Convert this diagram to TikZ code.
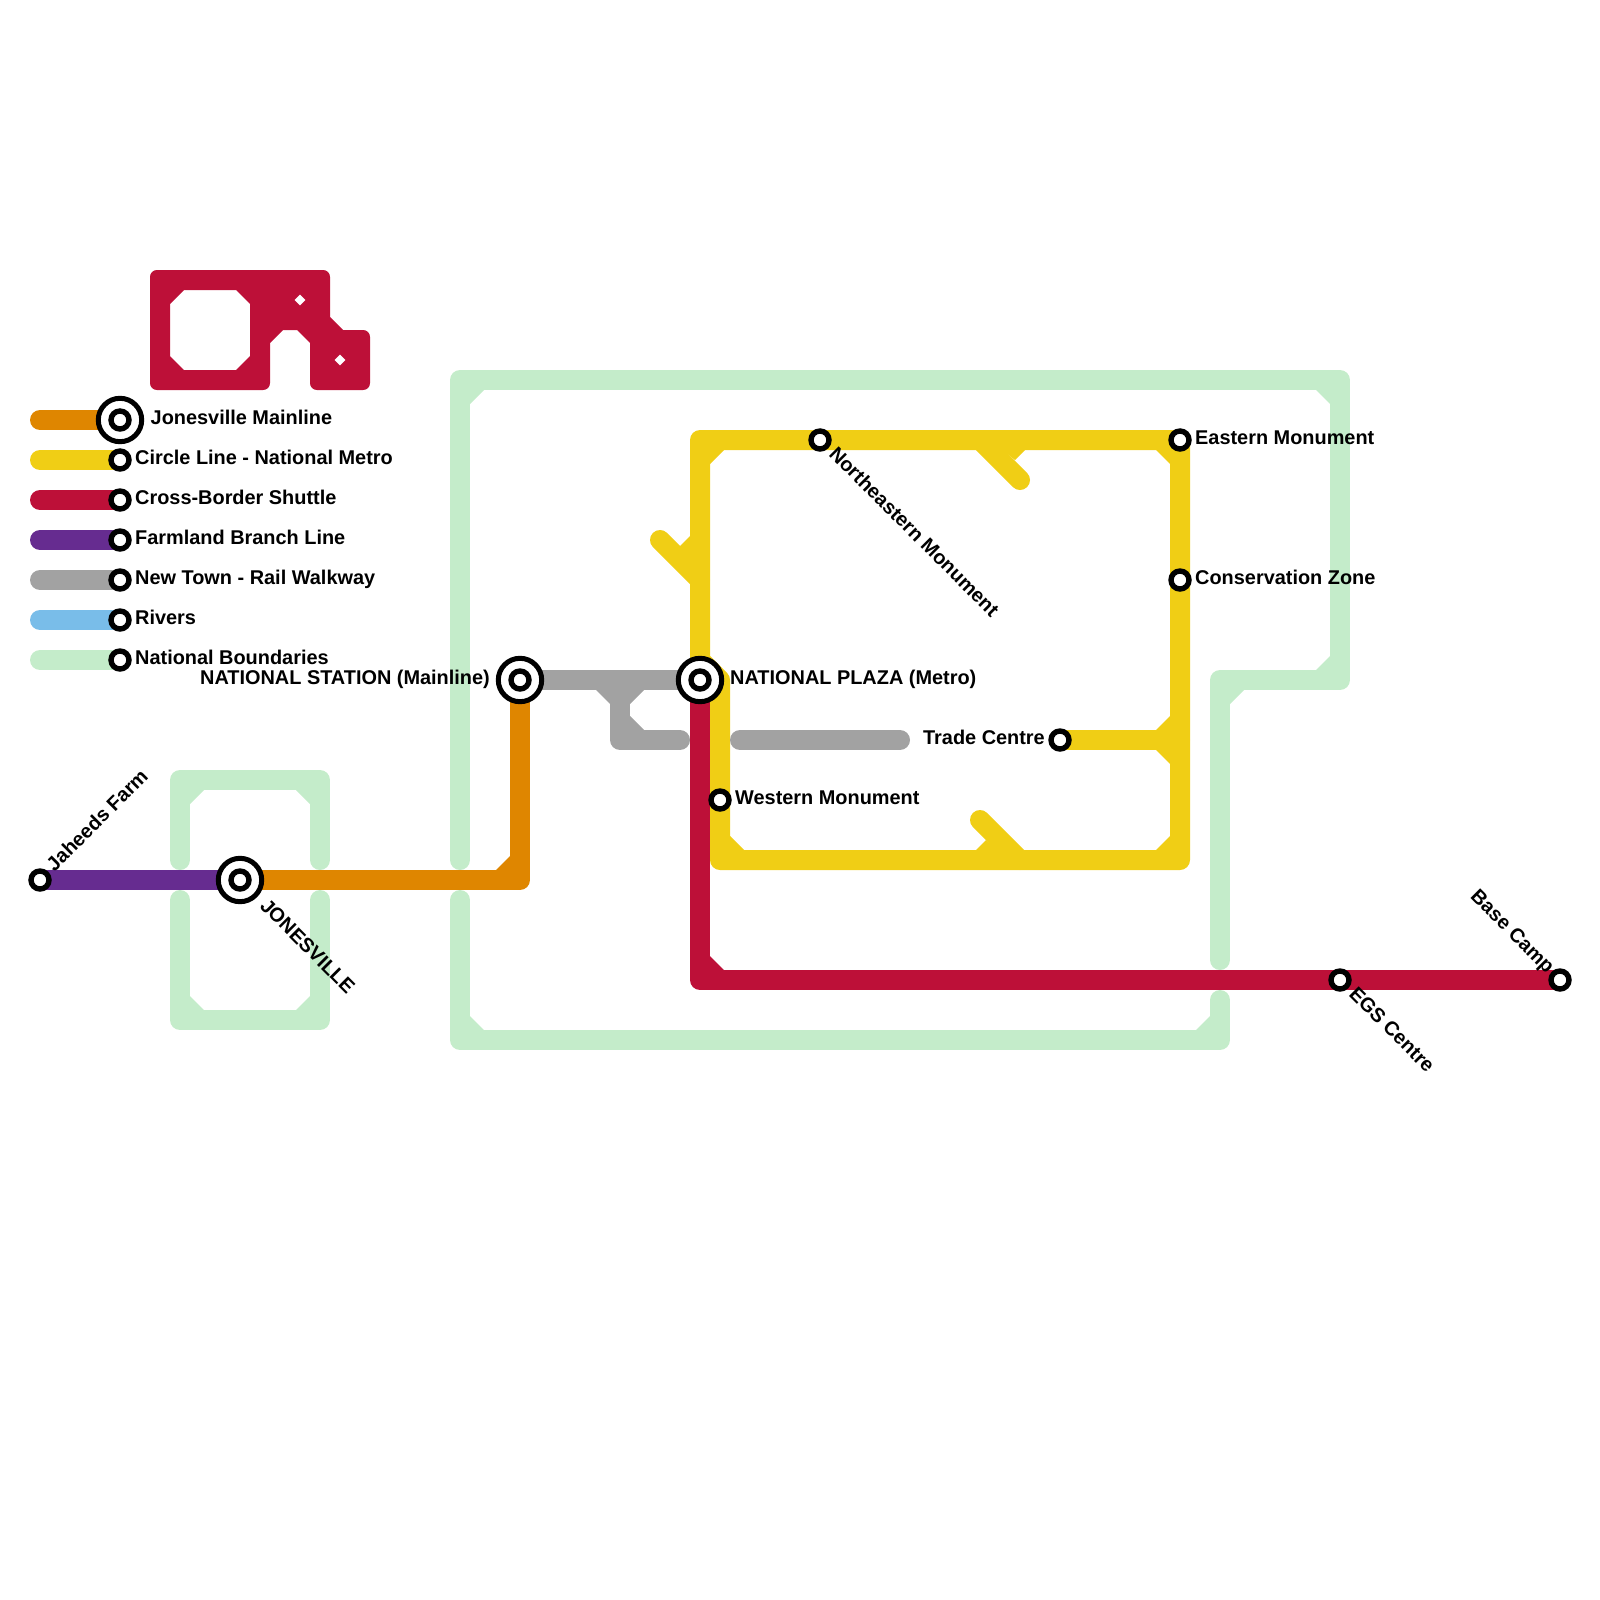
\documentclass[tikz,border=0pt]{standalone}
\usepackage{fontspec}
\setmainfont{Liberation Sans}
\usetikzlibrary{backgrounds}
\definecolor{cOrange}{HTML}{DF8600}
\definecolor{cYellow}{HTML}{F0CE15}
\definecolor{cRed}{HTML}{BD1038}
\definecolor{cPurple}{HTML}{662C90}
\definecolor{cGray}{HTML}{A2A2A2}
\definecolor{cBlue}{HTML}{79BDE9}
\definecolor{cGreen}{HTML}{C4ECCA}
\newcommand{\cham}[5]{\fill[#1] ({#2-#4},{#3-#5}) -- ({#2+14*#4},{#3-#5}) -- ({#2+14*#4},{#3}) -- ({#2},{#3+14*#5}) -- ({#2-#4},{#3+14*#5}) -- cycle;}
\tikzset{
  metro/.style={line width=20pt,line cap=round,line join=round,color=#1},
  stn/.style={circle,draw=black,fill=white,line width=5.4pt,minimum size=18pt,inner sep=0pt},
  stnbig/.style={circle,draw=black,fill=white,line width=5pt,minimum size=43.4pt,inner sep=0pt},
  lbl/.style={font=\fontsize{19.9}{24}\selectfont\bfseries,inner sep=0pt,text=black},
  lw/.style={lbl,anchor=base west},
  le/.style={lbl,anchor=base east}
}
\begin{document}
\begin{tikzpicture}[x=1pt,y=-1pt]
\useasboundingbox (0,0) rectangle (1600,1600);
% stations
\node[stnbig] (jonesville) at (240,880) {}; \node[stn] (jonesvillec) at (240,880) {};
\node[stnbig] (natstation) at (520,680) {}; \node[stn] (natstationc) at (520,680) {};
\node[stnbig] (natplaza) at (700,680) {}; \node[stn] (natplazac) at (700,680) {};
\node[stn] (jaheeds) at (40,880) {};
\node[stn] (northeast) at (820,440) {};
\node[stn] (eastern) at (1180,440) {};
\node[stn] (conservation) at (1180,580) {};
\node[stn] (trade) at (1060,740) {};
\node[stn] (western) at (720,800) {};
\node[stn] (egs) at (1340,980) {};
\node[stn] (basecamp) at (1560,980) {};
% legend stations
\node[stnbig] (keyA) at (120,420) {}; \node[stn] (keyAc) at (120,420) {};
\node[stn] (keyB) at (120,460) {};
\node[stn] (keyC) at (120,500) {};
\node[stn] (keyD) at (120,540) {};
\node[stn] (keyE) at (120,580) {};
\node[stn] (keyF) at (120,620) {};
\node[stn] (keyG) at (120,660) {};
% labels
\node[lw] (tA) at (150.5,424.7) {Jonesville Mainline};
\node[lw] (tB) at (135,464.7) {Circle Line - National Metro};
\node[lw] (tC) at (135,504.7) {Cross-Border Shuttle};
\node[lw] (tD) at (135,544.7) {Farmland Branch Line};
\node[lw] (tE) at (135,584.7) {New Town - Rail Walkway};
\node[lw] (tF) at (135,624.7) {Rivers};
\node[lw] (tG) at (135,664.7) {National Boundaries};
\node[le] (tNS) at (490,684.5) {NATIONAL STATION (Mainline)};
\node[lw] (tNP) at (730,684.5) {NATIONAL PLAZA (Metro)};
\node[le] (tTC) at (1045,744.7) {Trade Centre};
\node[lw] (tWM) at (735,804.7) {Western Monument};
\node[lw] (tEM) at (1195,444.7) {Eastern Monument};
\node[lw] (tCZ) at (1195,584.5) {Conservation Zone};
\node[lw,rotate=45] (tJF) at (54.5,872.5) {Jaheeds Farm};
\node[lw,rotate=-45] (tJV) at (259,907) {JONESVILLE};
\node[lw,rotate=-45] (tNE) at (828,455) {Northeastern Monument};
\node[lw,rotate=-45] (tEG) at (1348,995) {EGS Centre};
\node[le,rotate=-45] (tBC) at (1546.5,974.5) {Base Camp};
\begin{scope}[on background layer]
% logo
\fill[cRed,even odd rule]
  (157,270) -- (323,270) .. controls (327,270) and (330,273) .. (330,277) -- (330,317) -- (343,330) -- (363,330) .. controls (367,330) and (370,333) .. (370,337) -- (370,383) .. controls (370,387) and (367,390) .. (363,390) -- (317,390) .. controls (313,390) and (310,387) .. (310,383) -- (310,343) -- (297,330) -- (283,330) -- (270,343) -- (270,383) .. controls (270,387) and (267,390) .. (263,390) -- (157,390) .. controls (153,390) and (150,387) .. (150,383) -- (150,277) .. controls (150,273) and (153,270) .. (157,270) -- cycle
  (184,290) -- (236,290) -- (250,304) -- (250,356) -- (236,370) -- (184,370) -- (170,356) -- (170,304) -- cycle
  (300,294.3) -- (305.7,300) -- (300,305.7) -- (294.3,300) -- cycle
  (340,354.3) -- (345.7,360) -- (340,365.7) -- (334.3,360) -- cycle;
% corners and free ends
\coordinate (g1) at (180,860); \coordinate (g2) at (180,780); \coordinate (g3) at (320,780); \coordinate (g4) at (320,860);
\coordinate (g5) at (180,900); \coordinate (g6) at (180,1020); \coordinate (g7) at (320,1020); \coordinate (g8) at (320,900);
\coordinate (b1) at (460,860); \coordinate (b2) at (460,380); \coordinate (b3) at (1340,380); \coordinate (b4) at (1340,680); \coordinate (b5) at (1220,680); \coordinate (b6) at (1220,960);
\coordinate (b7) at (1220,1000); \coordinate (b8) at (1220,1040); \coordinate (b9) at (460,1040); \coordinate (b10) at (460,900);
% boundaries
\draw[metro=cGreen] (g1) -- (g2) -- (g3) -- (g4);
\draw[metro=cGreen] (g5) -- (g6) -- (g7) -- (g8);
\draw[metro=cGreen] (b1) -- (b2) -- (b3) -- (b4) -- (b5) -- (b6);
\draw[metro=cGreen] (b7) -- (b8) -- (b9) -- (b10);
\cham{cGreen}{190}{790}{1}{1}\cham{cGreen}{310}{790}{-1}{1}\cham{cGreen}{190}{1010}{1}{-1}\cham{cGreen}{310}{1010}{-1}{-1}
\cham{cGreen}{470}{390}{1}{1}\cham{cGreen}{1330}{390}{-1}{1}\cham{cGreen}{1330}{670}{-1}{-1}\cham{cGreen}{1230}{690}{1}{1}\cham{cGreen}{1210}{1030}{-1}{-1}\cham{cGreen}{470}{1030}{1}{-1}
% circle line
\coordinate (y1) at (700,660); \coordinate (y2) at (720,680); \coordinate (y3) at (720,860); \coordinate (y4) at (1180,860); \coordinate (y6) at (700,440);
\coordinate (s1) at (660,540); \coordinate (s2) at (700,580);
\coordinate (s3) at (980,440); \coordinate (s4) at (1020,480);
\coordinate (s5) at (980,820); \coordinate (s6) at (1020,860);
\coordinate (y7) at (1180,740);
\draw[metro=cYellow] (natplaza.center) -- (y1) -- (y6) -- (northeast.center) -- (eastern.center) -- (conservation.center) -- (y4) -- (y3) -- (western.center) -- (y2) -- (y1);
\draw[metro=cYellow] (s1) -- (s2);
\draw[metro=cYellow] (s3) -- (s4);
\draw[metro=cYellow] (s5) -- (s6);
\draw[metro=cYellow] (trade.center) -- (y7);
\cham{cYellow}{710}{450}{1}{1}\cham{cYellow}{1170}{450}{-1}{1}\cham{cYellow}{1170}{850}{-1}{-1}\cham{cYellow}{730}{850}{1}{-1}\cham{cYellow}{1170}{730}{-1}{-1}\cham{cYellow}{1170}{750}{-1}{1}
\fill[cYellow] (679.5,546.5) -- (690,536) -- (692,536) -- (692,560) -- cycle;
\fill[cYellow] (1015,460) -- (1025,450) -- (1025,448) -- (1000,448) -- cycle;
\fill[cYellow] (976,850) -- (986,840) -- (1000,852) -- (976,852) -- cycle;
% walkway
\coordinate (w1) at (620,680); \coordinate (w2) at (620,740); \coordinate (w3) at (680,740);
\coordinate (w4) at (740,740); \coordinate (w5) at (900,740);
\draw[metro=cGray] (natstation.center) -- (natplaza.center);
\draw[metro=cGray] (w1) -- (w2) -- (w3);
\draw[metro=cGray] (w4) -- (w5);
\cham{cGray}{610}{690}{-1}{1}\cham{cGray}{630}{690}{1}{1}\cham{cGray}{630}{730}{1}{-1}
% shuttle
\coordinate (r1) at (700,980);
\draw[metro=cRed] (natplaza.center) -- (r1) -- (egs.center) -- (basecamp.center);
\cham{cRed}{710}{970}{1}{-1}
% mainline
\coordinate (o1) at (520,880);
\draw[metro=cOrange] (jonesville.center) -- (o1) -- (natstation.center);
\cham{cOrange}{510}{870}{-1}{-1}
% farmland
\draw[metro=cPurple] (jaheeds.center) -- (jonesville.center);
% legend lines
\coordinate (k1) at (40,420); \coordinate (k2) at (40,460); \coordinate (k3) at (40,500); \coordinate (k4) at (40,540); \coordinate (k5) at (40,580); \coordinate (k6) at (40,620); \coordinate (k7) at (40,660);
\draw[metro=cOrange] (k1) -- (keyA.center);
\draw[metro=cYellow] (k2) -- (keyB.center);
\draw[metro=cRed] (k3) -- (keyC.center);
\draw[metro=cPurple] (k4) -- (keyD.center);
\draw[metro=cGray] (k5) -- (keyE.center);
\draw[metro=cBlue] (k6) -- (keyF.center);
\draw[metro=cGreen] (k7) -- (keyG.center);
\end{scope}
\end{tikzpicture}
\end{document}
